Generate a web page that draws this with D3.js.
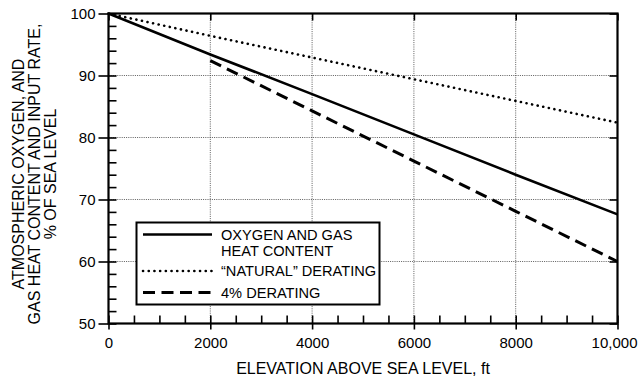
<!DOCTYPE html>
<html>
<head>
<meta charset="utf-8">
<script src="https://cdn.jsdelivr.net/npm/d3@7"></script>
<style>
  body { margin: 0; background: #fff; }
  svg { display: block; font-family: "Liberation Sans", Arial, sans-serif; }
</style>
</head>
<body>
<script>
// values
const elevation = [0, 2000, 4000, 6000, 8000, 10000]
const oxygenGas = [100, 93.4, 87, 80.5, 74, 67.6]
const natural = [100, 96.4, 92.9, 89.4, 85.9, 82.4]
const derate4 = [null, 92.4, 84.3, 76.2, 68.1, 60]

const xMajor = [0, 2000, 4000, 6000, 8000, 10000]
const xLabels = ["0", "2000", "4000", "6000", "8000", "10,000"]
const yMajor = [50, 60, 70, 80, 90, 100]

const legendItems = [
  {lines: ["OXYGEN AND GAS", "HEAT CONTENT"], dash: null, width: 2.6},
  {lines: ["\u201CNATURAL\u201D DERATING"], dash: "0.1,5.6", width: 2.6},
  {lines: ["4% DERATING"], dash: "12,6.5", width: 3}
]

const width = 638, height = 382
const pLeft = 108.5, pRight = 617.5, pTop = 13.5, pBottom = 323.5

const svg = d3.select("body").append("svg")
  .attr("width", width)
  .attr("height", height)

const x = d3.scaleLinear().domain([0, 10000]).range([pLeft, pRight])
const y = d3.scaleLinear().domain([50, 100]).range([pBottom, pTop])

// dotted grid
svg.append("g").selectAll("line").data(yMajor.slice(1, -1)).enter().append("line")
  .attr("x1", pLeft).attr("x2", pRight)
  .attr("y1", d => y(d)).attr("y2", d => y(d))
  .style("stroke", "#333").style("stroke-width", 0.8).style("stroke-dasharray", "1,1.2")
svg.append("g").selectAll("line").data(xMajor.slice(1, -1)).enter().append("line")
  .attr("y1", pTop).attr("y2", pBottom)
  .attr("x1", d => x(d)).attr("x2", d => x(d))
  .style("stroke", "#333").style("stroke-width", 0.8).style("stroke-dasharray", "1,1.2")

// axes: outward major ticks w/ labels, inward major + minor ticks
const xMinor = d3.range(0, 10001, 500).filter(d => d % 2000 != 0)
const yMinor = d3.range(50, 101, 2).filter(d => d % 10 != 0)

function styleAxis(g){
  g.select(".domain").remove()
  g.selectAll("line").style("stroke", "#000").style("stroke-width", 1.6)
  g.selectAll("text").style("font-size", "15px").style("fill", "#000")
}

const xAxisG = svg.append("g").attr("transform", `translate(0,${pBottom})`)
  .call(d3.axisBottom(x).tickValues(xMajor).tickSize(6).tickPadding(8).tickFormat((d, i) => xLabels[i]))
  .call(styleAxis)
// last label sits flush with the right edge of the picture
xAxisG.selectAll(".tick").filter(d => d == 10000).select("text")
  .attr("text-anchor", "end")
  .attr("x", 637 - x(10000))

svg.append("g").attr("transform", `translate(0,${pBottom})`)
  .call(d3.axisBottom(x).tickValues(xMinor.concat(xMajor)).tickSize(-8).tickFormat(""))
  .call(styleAxis)
svg.append("g").attr("transform", `translate(0,${pTop})`)
  .call(d3.axisTop(x).tickValues(xMajor).tickSize(-7).tickFormat(""))
  .call(styleAxis)

svg.append("g").attr("transform", `translate(${pLeft},0)`)
  .call(d3.axisLeft(y).tickValues(yMajor).tickSize(10).tickPadding(3))
  .call(styleAxis)
svg.append("g").attr("transform", `translate(${pLeft},0)`)
  .call(d3.axisLeft(y).tickValues(yMinor.concat(yMajor)).tickSize(-8).tickFormat(""))
  .call(styleAxis)
svg.append("g").attr("transform", `translate(${pRight},0)`)
  .call(d3.axisRight(y).tickValues(yMajor).tickSize(-8).tickFormat(""))
  .call(styleAxis)

// frame
svg.append("rect")
  .attr("x", pLeft).attr("y", pTop)
  .attr("width", pRight - pLeft).attr("height", pBottom - pTop)
  .style("fill", "none").style("stroke", "#000").style("stroke-width", 2.2)

// series
const line = d3.line()
  .defined(d => d[1] != null)
  .x(d => x(d[0])).y(d => y(d[1]))

const series = [
  {values: oxygenGas, dash: null, width: 2.6, cap: "butt"},
  {values: natural, dash: "0.1,5.6", width: 2.6, cap: "round"},
  {values: derate4, dash: "12,6.5", width: 3, cap: "butt"}
]

svg.append("g").selectAll("path").data(series).enter().append("path")
  .attr("d", s => line(elevation.map((e, i) => [e, s.values[i]])))
  .style("fill", "none")
  .style("stroke", "#000")
  .style("stroke-width", s => s.width)
  .style("stroke-linecap", s => s.cap)
  .style("stroke-dasharray", s => s.dash)

// legend
const lg = svg.append("g")
lg.append("rect")
  .attr("x", 136.5).attr("y", 222.5).attr("width", 243).attr("height", 82)
  .style("fill", "#fff").style("stroke", "#000").style("stroke-width", 2)

const rowY = [234.5, 271, 292.5]
legendItems.forEach((item, i) => {
  lg.append("line")
    .attr("x1", 143).attr("x2", 212)
    .attr("y1", rowY[i]).attr("y2", rowY[i])
    .style("stroke", "#000")
    .style("stroke-width", item.width)
    .style("stroke-linecap", item.dash && item.dash.startsWith("0.1") ? "round" : "butt")
    .style("stroke-dasharray", item.dash)
  const t = lg.append("text")
    .attr("y", rowY[i] + 5)
    .style("font-size", "14.6px")
  item.lines.forEach((s, j) => {
    t.append("tspan")
      .attr("x", 221).attr("dy", j == 0 ? 0 : 16.6)
      .text(s)
  })
})

// axis titles
svg.append("text")
  .attr("x", (pLeft + pRight) / 2).attr("y", 374)
  .attr("text-anchor", "middle")
  .style("font-size", "16px")
  .text("ELEVATION ABOVE SEA LEVEL, ft")

const yTitle = ["ATMOSPHERIC OXYGEN, AND", "GAS HEAT CONTENT AND INPUT RATE,", "% OF SEA LEVEL"]
const yt = svg.append("text")
  .attr("transform", "translate(0,174) rotate(-90)")
  .attr("y", 24)
  .attr("text-anchor", "middle")
  .style("font-size", "16px")
yt.selectAll("tspan").data(yTitle).enter().append("tspan")
  .attr("x", 0).attr("dy", (d, i) => i == 0 ? 0 : 15.8)
  .text(d => d)
</script>
</body>
</html>
